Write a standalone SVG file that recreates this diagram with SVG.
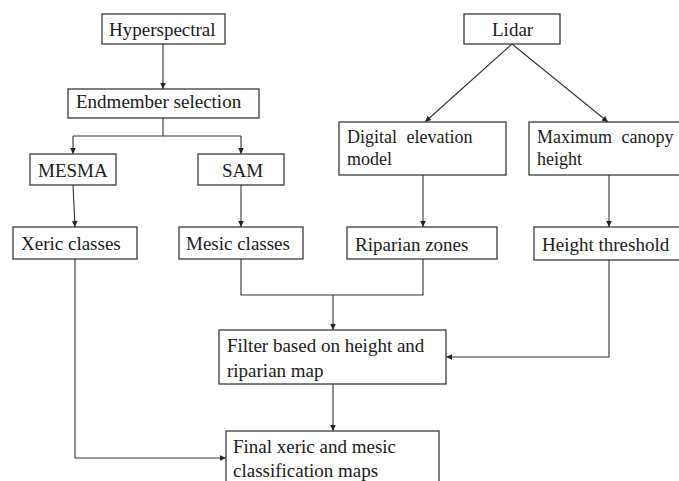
<svg xmlns="http://www.w3.org/2000/svg" width="679" height="481" viewBox="0 0 679 481">
<style>
rect.n{fill:#fff;stroke:#3a3a3a;stroke-width:1.3}
text{font-family:'Liberation Serif','Times New Roman',serif;font-size:19px;fill:#1a1a1a}
text.j{font-size:18px;word-spacing:5px}
.c path,.c line{fill:none;stroke:#333;stroke-width:1.1}
</style>
<defs>
<marker id="a" markerWidth="8" markerHeight="8" refX="7" refY="4" orient="auto" markerUnits="userSpaceOnUse">
<path d="M1,1.2 L7,4 L1,6.8 Z" fill="#222"/>
</marker>
</defs>
<rect width="679" height="481" fill="#fff"/>
<g class="c" id="connectors">
<line x1="163" y1="44" x2="163" y2="89" marker-end="url(#a)"/>
<path d="M163,118 V136 H73"/>
<path d="M163,136 H241"/>
<line x1="73" y1="136" x2="73" y2="154" marker-end="url(#a)"/>
<line x1="241" y1="136" x2="241" y2="154" marker-end="url(#a)"/>
<line x1="73" y1="185" x2="75" y2="227" marker-end="url(#a)"/>
<line x1="241" y1="185" x2="241" y2="227" marker-end="url(#a)"/>
<line x1="512" y1="44" x2="425" y2="122" marker-end="url(#a)"/>
<line x1="512" y1="44" x2="608" y2="122" marker-end="url(#a)"/>
<line x1="423" y1="175" x2="423" y2="227" marker-end="url(#a)"/>
<line x1="609" y1="175" x2="609" y2="227" marker-end="url(#a)"/>
<path d="M241,259 V295 H423 V259"/>
<line x1="333" y1="295" x2="333" y2="330" marker-end="url(#a)"/>
<path d="M609,260 V357 H446" marker-end="url(#a)"/>
<line x1="333" y1="384" x2="333" y2="431" marker-end="url(#a)"/>
<path d="M75,259 V458 H226" marker-end="url(#a)"/>
</g>
<g id="hyperspectral"><rect class="n" x="102" y="14" width="123" height="30"/><text x="109" y="36">Hyperspectral</text></g>
<g id="endmember"><rect class="n" x="68" y="89" width="191" height="29"/><text x="76" y="108">Endmember selection</text></g>
<g id="mesma"><rect class="n" x="30" y="154" width="86" height="31"/><text x="38" y="177">MESMA</text></g>
<g id="sam"><rect class="n" x="198" y="154" width="86" height="31"/><text x="222" y="177">SAM</text></g>
<g id="xeric"><rect class="n" x="13" y="227" width="124" height="32"/><text x="21" y="250">Xeric classes</text></g>
<g id="mesic"><rect class="n" x="179" y="227" width="124" height="32"/><text x="186" y="250">Mesic classes</text></g>
<g id="lidar"><rect class="n" x="464" y="14" width="96" height="30"/><text x="492" y="36">Lidar</text></g>
<g id="dem"><rect class="n" x="339" y="122" width="167" height="53"/><text class="j" x="347" y="143">Digital elevation</text><text class="j" x="347" y="165">model</text></g>
<g id="maxcanopy"><rect class="n" x="529" y="122" width="152" height="53"/><text class="j" x="537" y="143">Maximum canopy</text><text class="j" x="537" y="165">height</text></g>
<g id="riparian"><rect class="n" x="347" y="227" width="150" height="32"/><text x="355" y="251">Riparian zones</text></g>
<g id="threshold"><rect class="n" x="534" y="227" width="147" height="33"/><text x="542" y="251">Height threshold</text></g>
<g id="filter"><rect class="n" x="219" y="330" width="227" height="54"/><text x="227" y="352">Filter based on height and</text><text x="227" y="377">riparian map</text></g>
<g id="final"><rect class="n" x="226" y="431" width="213" height="60"/><text x="233" y="453">Final xeric and mesic</text><text x="233" y="477">classification maps</text></g>
</svg>
